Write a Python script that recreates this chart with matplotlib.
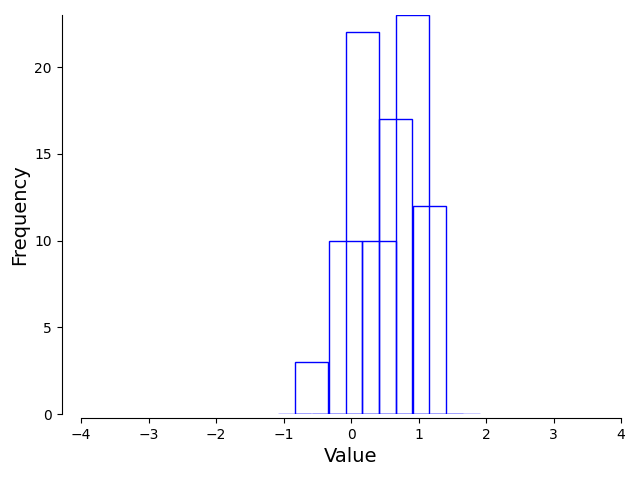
import matplotlib.pyplot as plt

# bar left edges and counts
lefts = [-1.08, -0.83, -0.58, -0.33, -0.08, 0.17, 0.42, 0.67, 0.92, 1.17, 1.42]
counts = [0, 3, 0, 10, 22, 10, 17, 23, 12, 0, 0]
width = 0.49

fig = plt.figure(figsize=(6.4, 4.8), dpi=100)
ax = fig.add_axes([81/640, 66/480, 540/640, 399/480])
ax.bar(lefts, counts, width=width, align='edge', facecolor='none', edgecolor='blue', lw=1)
ax.set_xlim(-4, 4)
ax.set_ylim(0, 23)
ax.set_xticks(range(-4, 5))
ax.set_yticks([0, 5, 10, 15, 20])
ax.spines['top'].set_visible(False)
ax.spines['right'].set_visible(False)
ax.spines['left'].set_position(('outward', 14))
ax.spines['bottom'].set_position(('outward', 3))
ax.set_xlabel('Value', fontsize=14)
ax.set_ylabel('Frequency', fontsize=14)

plt.savefig('out.png', dpi=100)
